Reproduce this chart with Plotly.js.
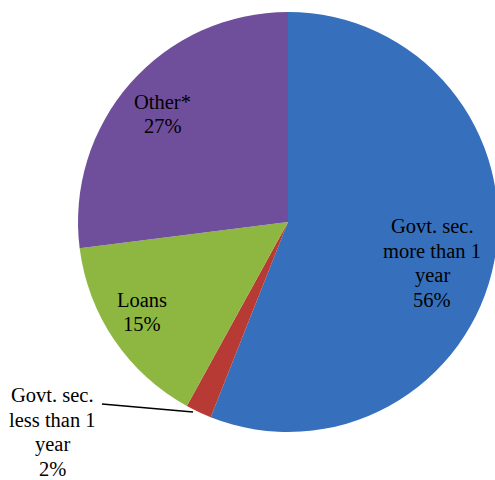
<!DOCTYPE html>
<html><head><meta charset="utf-8">
<script src="https://cdn.plot.ly/plotly-3.0.1.min.js"></script>
<style>html,body{margin:0;padding:0;background:#fff;overflow:hidden;}
#wrap{width:495px;height:480px;overflow:hidden;}
#chart text{font-family:"Liberation Serif","Times New Roman",serif !important;}</style>
</head><body>
<div id="wrap"><div id="chart" style="width:498px;height:480px;"></div></div>
<script>
const categories = ["Govt. sec. more than 1 year", "Govt. sec. less than 1 year", "Loans", "Other*"];
const labelLines = [["Govt. sec.", "more than 1", "year"], ["Govt. sec.", "less than 1", "year"], ["Loans"], ["Other*"]];
const values = [56, 2, 15, 27];
const colors = ["#3670BC", "#B73A34", "#8EB742", "#6F4F9C"];

const trace = {
  type: "pie",
  labels: categories,
  values: values,
  sort: false,
  direction: "clockwise",
  rotation: 0,
  marker: {colors: colors, line: {width: 0}},
  textinfo: "none",
  hoverinfo: "label+percent",
  showlegend: false
};

// label block centres in paper coords
const labelPos = [[0.843, 0.402], [-0.060, 0.0], [0.152, 0.286], [0.202, 0.757]];
const LINE_H = 24.5;
const annotations = [];
categories.forEach((c, i) => {
  const lines = labelLines[i].concat([values[i] + "%"]);
  const n = lines.length;
  lines.forEach((ln, k) => {
    annotations.push({
      xref: "paper", yref: "paper",
      x: labelPos[i][0], y: labelPos[i][1], xanchor: "center", yanchor: "middle",
      yshift: -(k - (n - 1) / 2) * LINE_H,
      text: ln,
      showarrow: false,
      font: {family: "Liberation Serif", size: 20.5, color: "#000"}
    });
  });
});

const layout = {
  width: 498, height: 480,
  margin: {l: 78, r: 0, t: 12, b: 48},
  font: {family: "Liberation Serif", color: "#000"},
  paper_bgcolor: "#fff",
  showlegend: false,
  annotations: annotations,
  shapes: [{
    type: "line", xref: "paper", yref: "paper",
    x0: 0.057, y0: 0.0667, x1: 0.274, y1: 0.0476,
    line: {color: "#000", width: 1.5}
  }]
};
Plotly.newPlot("chart", [trace], layout, {displayModeBar: false, staticPlot: true});
</script>
</body></html>
